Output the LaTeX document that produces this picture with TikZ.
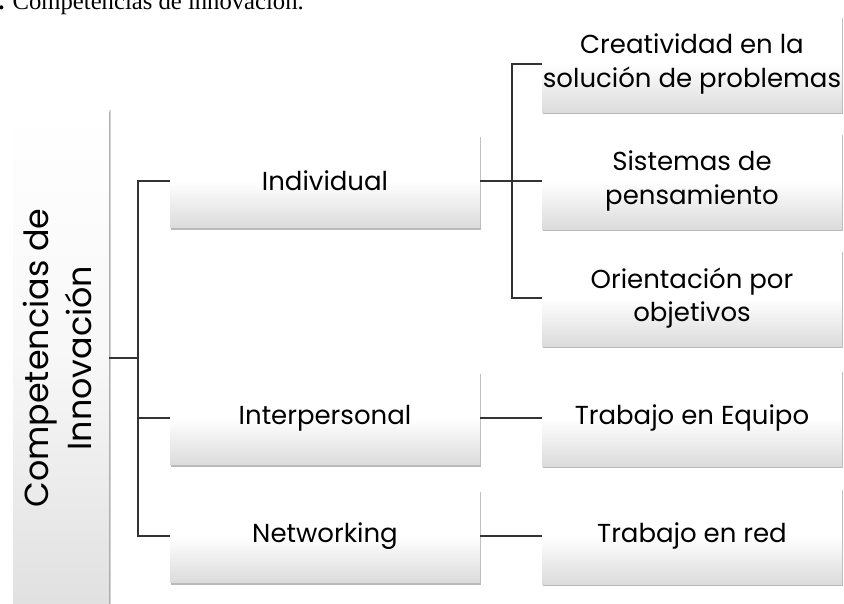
\documentclass[tikz,border=0pt]{standalone}
\usepackage{fontspec}
\setmainfont{Liberation Serif}
\newfontfamily\boxfont{Poppins}
\usetikzlibrary{shadows}
\providecommand{\compLineColor}{black!80}
\providecommand{\compLineWidth}{1pt}
\tikzset{
  compbox/.style={shade, top color=white, bottom color=black!14, middle color=white,
    draw=none, inner sep=0pt, align=center, font=\boxfont\fontsize{19.5}{25}\selectfont,
    drop shadow={shadow xshift=0.4pt, shadow yshift=-1.8pt, opacity=0.55}},
  levelbox/.style={compbox, minimum width=310*\pxsz, minimum height=93*\pxsz},
  leafbox/.style={compbox, minimum width=300*\pxsz, minimum height=96*\pxsz},
  rootbox/.style={compbox, top color=white, bottom color=black!12, middle color=white!97!black,
    minimum width=96*\pxsz, minimum height=496*\pxsz, font=\boxfont\fontsize{25}{34}\selectfont,
    drop shadow={shadow xshift=1.2pt, shadow yshift=0pt, opacity=0.35}},
  link/.style={draw=\compLineColor, line width=\compLineWidth}
}
\begin{document}
\begin{tikzpicture}
% one unit = one pixel of the 844x604 frame
\def\pxsz{0.75pt}
\begin{scope}[x=\pxsz, y=-\pxsz]
  \clip (0,0) rectangle (844,604);
  \fill[white] (0,0) rectangle (844,604);
  % Caption, cut at the top of the frame
  \node[anchor=base west, inner sep=0pt, font=\fontsize{18.5}{21}\selectfont] (caption) at (-2,9) {\textbf{.} Competencias de innovación.};
  % Root, text turned upwards
  \node[rootbox] (root) at (61,358) {\rotatebox{90}{\begin{tabular}{@{}c@{}}Competencias de\\[-2pt]Innovación\end{tabular}}};
  % Second level
  \node[levelbox] (indiv) at (325,181) {Individual};
  \node[levelbox] (inter) at (325,418) {Interpersonal};
  \node[levelbox] (netw) at (325,536) {Networking};
  % Leaves
  \node[leafbox] (creat) at (692,64) {Creatividad en la\\solución de problemas};
  \node[leafbox] (sist) at (692,181) {Sistemas de\\pensamiento};
  \node[leafbox] (orient) at (692,298) {Orientación por\\objetivos};
  \node[leafbox] (equipo) at (692,418) {Trabajo en Equipo};
  \node[leafbox] (red) at (692,536) {Trabajo en red};
  % Connectors
  \coordinate (trunk) at (138,358);
  \coordinate (branch) at (512,181);
  \begin{scope}[link]
    \draw (root.east) -- (trunk);
    \draw (indiv.west) -| (trunk) |- (netw.west);
    \draw (inter.west) -- (inter.west -| trunk);
    \draw (creat.west) -| (branch) |- (orient.west);
    \draw (indiv.east) -- (sist.west);
    \draw (inter.east) -- (equipo.west);
    \draw (netw.east) -- (red.west);
  \end{scope}
\end{scope}
\end{tikzpicture}
\end{document}
